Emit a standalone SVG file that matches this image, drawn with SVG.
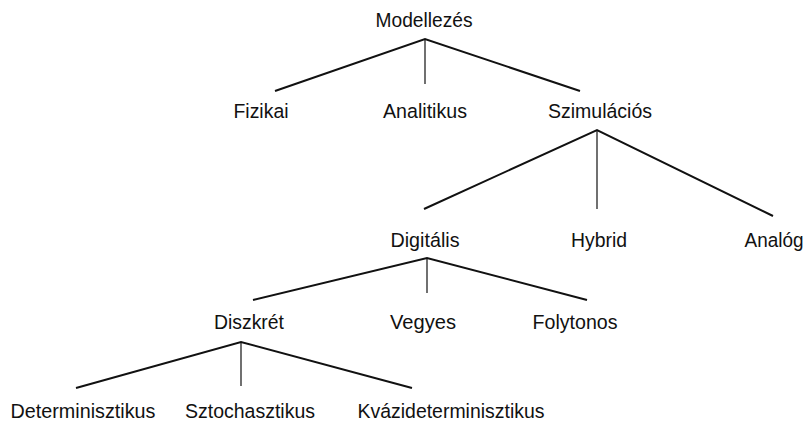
<svg xmlns="http://www.w3.org/2000/svg" width="808" height="425" viewBox="0 0 808 425">
<style>
text{font-family:"Liberation Sans",Arial,sans-serif;font-size:20.5px;fill:#111;text-anchor:middle}
.d{stroke:#111;stroke-width:2;fill:none}
.v{stroke:#111;stroke-width:1.2;fill:none}
</style>
<rect width="808" height="425" fill="#fff"/>
<g id="connectors">
<path class="d" d="M275,91 L425,39 L580,91"/>
<path class="v" d="M425,39 V84"/>
<path class="d" d="M424,209 L597,130 L773,216"/>
<path class="v" d="M597,130 V209"/>
<path class="d" d="M253,300 L427,258 L587,300"/>
<path class="v" d="M427,258 V293"/>
<path class="d" d="M76,388 L241,342 L412,388"/>
<path class="v" d="M241,342 V386"/>
</g>
<g id="n-modellezes"><text x="424" y="27" textLength="97" lengthAdjust="spacingAndGlyphs">Modellezés</text></g>
<g id="n-fizikai"><text x="261" y="118" textLength="55" lengthAdjust="spacingAndGlyphs">Fizikai</text></g>
<g id="n-analitikus"><text x="425" y="118" textLength="84" lengthAdjust="spacingAndGlyphs">Analitikus</text></g>
<g id="n-szimulacios"><text x="600" y="118" textLength="104" lengthAdjust="spacingAndGlyphs">Szimulációs</text></g>
<g id="n-digitalis"><text x="425" y="247" textLength="69" lengthAdjust="spacingAndGlyphs">Digitális</text></g>
<g id="n-hybrid"><text x="599" y="247" textLength="56" lengthAdjust="spacingAndGlyphs">Hybrid</text></g>
<g id="n-analog"><text x="774" y="247" textLength="59" lengthAdjust="spacingAndGlyphs">Analóg</text></g>
<g id="n-diszkret"><text x="249" y="329" textLength="70" lengthAdjust="spacingAndGlyphs">Diszkrét</text></g>
<g id="n-vegyes"><text x="423" y="329" textLength="66" lengthAdjust="spacingAndGlyphs">Vegyes</text></g>
<g id="n-folytonos"><text x="575" y="329" textLength="85" lengthAdjust="spacingAndGlyphs">Folytonos</text></g>
<g id="n-determinisztikus"><text x="83" y="418" textLength="145" lengthAdjust="spacingAndGlyphs">Determinisztikus</text></g>
<g id="n-sztochasztikus"><text x="250" y="418" textLength="130" lengthAdjust="spacingAndGlyphs">Sztochasztikus</text></g>
<g id="n-kvazideterminisztikus"><text x="451" y="418" textLength="187" lengthAdjust="spacingAndGlyphs">Kvázideterminisztikus</text></g>
</svg>
